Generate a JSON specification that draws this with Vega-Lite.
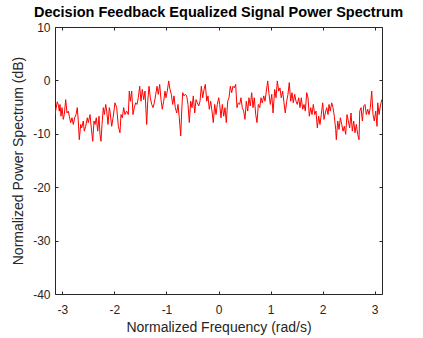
{
  "$schema": "https://vega.github.io/schema/vega-lite/v6.json",
  "autosize": {"type": "none"},
  "padding": {"left": 55, "top": 27, "right": 41, "bottom": 44},
  "width": 327,
  "height": 267,
  "background": "white",
  "config": {
    "font": "Liberation Sans",
    "view": {"stroke": "#262626", "strokeWidth": 1},
    "axis": {"grid": false, "domain": false, "tickColor": "#262626", "tickSize": -3, "labelColor": "#262626", "labelFont": "Liberation Sans", "labelFontSize": 12, "titleFont": "Liberation Sans", "titleFontSize": 14, "titleFontWeight": "normal", "titleColor": "#262626", "labelExpr": "'' + datum.value"}
  },
  "title": {"text": "Decision Feedback Equalized Signal Power Spectrum", "font": "Liberation Sans", "fontSize": 14.5, "fontWeight": "bold", "color": "black", "offset": 1},
  "data": {"values": [
    {"f": -3.142, "p": -6.4}, {"f": -3.098, "p": -4.0}, {"f": -3.079, "p": -4.5}, {"f": -3.059, "p": -5.75}, {"f": -3.046, "p": -4.5}, {"f": -3.026, "p": -6.7}, {"f": -3.007, "p": -5.1}, {"f": -2.982, "p": -7.3}, {"f": -2.963, "p": -6.4}, {"f": -2.936, "p": -3.6},
    {"f": -2.911, "p": -6.1}, {"f": -2.886, "p": -5.75}, {"f": -2.867, "p": -6.7}, {"f": -2.840, "p": -7.9}, {"f": -2.815, "p": -7.0}, {"f": -2.790, "p": -8.25}, {"f": -2.763, "p": -7.0}, {"f": -2.738, "p": -6.4}, {"f": -2.713, "p": -5.1}, {"f": -2.694, "p": -7.6},
    {"f": -2.675, "p": -11.1}, {"f": -2.648, "p": -8.25}, {"f": -2.629, "p": -8.9}, {"f": -2.598, "p": -7.6}, {"f": -2.579, "p": -9.5}, {"f": -2.552, "p": -8.6}, {"f": -2.521, "p": -7.0}, {"f": -2.502, "p": -7.9}, {"f": -2.469, "p": -6.4}, {"f": -2.444, "p": -8.9},
    {"f": -2.417, "p": -11.4}, {"f": -2.392, "p": -7.6}, {"f": -2.373, "p": -8.25}, {"f": -2.348, "p": -7.0}, {"f": -2.321, "p": -9.5}, {"f": -2.296, "p": -6.7}, {"f": -2.277, "p": -10.1}, {"f": -2.258, "p": -11.4}, {"f": -2.238, "p": -8.25}, {"f": -2.213, "p": -5.1},
    {"f": -2.194, "p": -6.4}, {"f": -2.167, "p": -4.5}, {"f": -2.148, "p": -5.75}, {"f": -2.123, "p": -8.25}, {"f": -2.098, "p": -5.1}, {"f": -2.085, "p": -5.75}, {"f": -2.052, "p": -8.6}, {"f": -2.021, "p": -6.7}, {"f": -1.989, "p": -4.2}, {"f": -1.956, "p": -5.1},
    {"f": -1.925, "p": -8.6}, {"f": -1.893, "p": -9.8}, {"f": -1.873, "p": -6.4}, {"f": -1.848, "p": -7.0}, {"f": -1.822, "p": -5.1}, {"f": -1.797, "p": -6.4}, {"f": -1.764, "p": -5.75}, {"f": -1.733, "p": -6.4}, {"f": -1.714, "p": -2.0}, {"f": -1.695, "p": -3.9},
    {"f": -1.668, "p": -2.0}, {"f": -1.643, "p": -6.4}, {"f": -1.618, "p": -5.1}, {"f": -1.591, "p": -4.2}, {"f": -1.566, "p": -4.5}, {"f": -1.541, "p": -3.25}, {"f": -1.514, "p": -1.1}, {"f": -1.489, "p": -3.9}, {"f": -1.464, "p": -1.7}, {"f": -1.437, "p": -3.6},
    {"f": -1.412, "p": -2.0}, {"f": -1.380, "p": -8.25}, {"f": -1.360, "p": -3.9}, {"f": -1.335, "p": -1.1}, {"f": -1.310, "p": -3.25}, {"f": -1.283, "p": -4.5}, {"f": -1.258, "p": -5.1}, {"f": -1.233, "p": -4.2}, {"f": -1.206, "p": -2.6}, {"f": -1.181, "p": -1.1},
    {"f": -1.157, "p": -2.6}, {"f": -1.130, "p": -0.75}, {"f": -1.105, "p": -3.6}, {"f": -1.080, "p": -5.4}, {"f": -1.053, "p": -3.9}, {"f": -1.028, "p": -2.0}, {"f": -1.009, "p": -3.25}, {"f": -0.984, "p": -2.0}, {"f": -0.957, "p": -0.1}, {"f": -0.932, "p": -1.7},
    {"f": -0.907, "p": -2.6}, {"f": -0.880, "p": -4.5}, {"f": -0.855, "p": -2.9}, {"f": -0.830, "p": -5.1}, {"f": -0.803, "p": -6.1}, {"f": -0.778, "p": -4.5}, {"f": -0.753, "p": -7.0}, {"f": -0.726, "p": -10.4}, {"f": -0.707, "p": -5.75}, {"f": -0.688, "p": -2.3},
    {"f": -0.663, "p": -2.9}, {"f": -0.638, "p": -2.6}, {"f": -0.611, "p": -2.9}, {"f": -0.586, "p": -4.5}, {"f": -0.561, "p": -7.9}, {"f": -0.534, "p": -3.9}, {"f": -0.509, "p": -5.1}, {"f": -0.484, "p": -2.9}, {"f": -0.457, "p": -6.1}, {"f": -0.432, "p": -3.6},
    {"f": -0.407, "p": -4.2}, {"f": -0.380, "p": -4.8}, {"f": -0.355, "p": -3.9}, {"f": -0.330, "p": -1.1}, {"f": -0.303, "p": -3.25}, {"f": -0.278, "p": -1.7}, {"f": -0.253, "p": -0.75}, {"f": -0.226, "p": -3.9}, {"f": -0.202, "p": -2.9}, {"f": -0.177, "p": -5.4},
    {"f": -0.150, "p": -3.9}, {"f": -0.125, "p": -5.75}, {"f": -0.100, "p": -7.9}, {"f": -0.073, "p": -4.5}, {"f": -0.048, "p": -6.4}, {"f": -0.023, "p": -4.5}, {"f": 0.004, "p": -3.25}, {"f": 0.023, "p": -4.5}, {"f": 0.048, "p": -7.0}, {"f": 0.073, "p": -4.5},
    {"f": 0.100, "p": -6.7}, {"f": 0.125, "p": -5.1}, {"f": 0.150, "p": -7.9}, {"f": 0.177, "p": -3.9}, {"f": 0.202, "p": -3.25}, {"f": 0.227, "p": -1.1}, {"f": 0.253, "p": -2.3}, {"f": 0.278, "p": -1.1}, {"f": 0.303, "p": -1.4}, {"f": 0.330, "p": -0.75},
    {"f": 0.355, "p": -5.1}, {"f": 0.380, "p": -4.2}, {"f": 0.407, "p": -4.5}, {"f": 0.432, "p": -3.25}, {"f": 0.457, "p": -5.1}, {"f": 0.484, "p": -5.75}, {"f": 0.509, "p": -7.3}, {"f": 0.534, "p": -3.9}, {"f": 0.561, "p": -5.75}, {"f": 0.586, "p": -3.25},
    {"f": 0.611, "p": -4.8}, {"f": 0.638, "p": -2.3}, {"f": 0.663, "p": -5.1}, {"f": 0.688, "p": -3.25}, {"f": 0.715, "p": -6.4}, {"f": 0.740, "p": -7.9}, {"f": 0.765, "p": -4.5}, {"f": 0.792, "p": -5.1}, {"f": 0.817, "p": -3.25}, {"f": 0.842, "p": -4.2},
    {"f": 0.869, "p": -2.9}, {"f": 0.894, "p": -3.9}, {"f": 0.919, "p": -2.0}, {"f": 0.946, "p": -0.1}, {"f": 0.971, "p": -2.6}, {"f": 0.996, "p": -4.5}, {"f": 1.023, "p": -2.6}, {"f": 1.048, "p": -6.1}, {"f": 1.080, "p": -1.7}, {"f": 1.105, "p": -3.25},
    {"f": 1.130, "p": -0.1}, {"f": 1.157, "p": -2.0}, {"f": 1.181, "p": -1.4}, {"f": 1.206, "p": -3.25}, {"f": 1.233, "p": -2.0}, {"f": 1.258, "p": -4.2}, {"f": 1.283, "p": -6.1}, {"f": 1.310, "p": -3.9}, {"f": 1.335, "p": -2.6}, {"f": 1.360, "p": -0.4},
    {"f": 1.387, "p": -3.9}, {"f": 1.412, "p": -2.3}, {"f": 1.437, "p": -4.2}, {"f": 1.464, "p": -2.6}, {"f": 1.489, "p": -3.9}, {"f": 1.514, "p": -4.5}, {"f": 1.541, "p": -3.25}, {"f": 1.566, "p": -5.1}, {"f": 1.591, "p": -3.25}, {"f": 1.618, "p": -5.4},
    {"f": 1.643, "p": -4.5}, {"f": 1.668, "p": -5.75}, {"f": 1.695, "p": -2.3}, {"f": 1.720, "p": -3.25}, {"f": 1.745, "p": -6.7}, {"f": 1.772, "p": -5.1}, {"f": 1.797, "p": -6.4}, {"f": 1.822, "p": -4.5}, {"f": 1.849, "p": -6.4}, {"f": 1.874, "p": -5.75},
    {"f": 1.899, "p": -8.9}, {"f": 1.925, "p": -6.7}, {"f": 1.950, "p": -8.25}, {"f": 1.975, "p": -6.4}, {"f": 2.002, "p": -4.2}, {"f": 2.027, "p": -7.3}, {"f": 2.052, "p": -6.1}, {"f": 2.079, "p": -5.1}, {"f": 2.104, "p": -6.4}, {"f": 2.123, "p": -4.5},
    {"f": 2.148, "p": -5.75}, {"f": 2.175, "p": -4.2}, {"f": 2.200, "p": -5.1}, {"f": 2.225, "p": -6.7}, {"f": 2.252, "p": -9.2}, {"f": 2.264, "p": -11.1}, {"f": 2.291, "p": -7.6}, {"f": 2.316, "p": -9.2}, {"f": 2.341, "p": -7.0}, {"f": 2.368, "p": -8.25},
    {"f": 2.393, "p": -9.5}, {"f": 2.418, "p": -8.6}, {"f": 2.444, "p": -10.1}, {"f": 2.469, "p": -6.4}, {"f": 2.494, "p": -7.6}, {"f": 2.521, "p": -8.9}, {"f": 2.546, "p": -6.1}, {"f": 2.571, "p": -9.5}, {"f": 2.598, "p": -7.6}, {"f": 2.623, "p": -9.8},
    {"f": 2.648, "p": -8.25}, {"f": 2.675, "p": -10.1}, {"f": 2.700, "p": -11.1}, {"f": 2.714, "p": -5.75}, {"f": 2.739, "p": -5.1}, {"f": 2.764, "p": -7.6}, {"f": 2.791, "p": -4.8}, {"f": 2.815, "p": -4.5}, {"f": 2.840, "p": -6.4}, {"f": 2.867, "p": -5.4},
    {"f": 2.892, "p": -6.4}, {"f": 2.917, "p": -5.1}, {"f": 2.944, "p": -2.0}, {"f": 2.969, "p": -6.4}, {"f": 2.994, "p": -7.6}, {"f": 3.021, "p": -5.75}, {"f": 3.046, "p": -8.6}, {"f": 3.060, "p": -4.2}, {"f": 3.085, "p": -6.4}, {"f": 3.110, "p": -4.8},
    {"f": 3.137, "p": -3.6}
  ]},
  "encoding": {
    "x": {"field": "f", "type": "quantitative", "scale": {"domain": [-3.14159, 3.14159], "nice": false, "zero": false}},
    "y": {"field": "p", "type": "quantitative", "scale": {"domain": [-40, 10], "nice": false, "zero": false}}
  },
  "layer": [
    {
      "mark": {"type": "line", "color": "#FF0000", "strokeWidth": 1, "clip": true},
      "encoding": {
        "x": {"field": "f", "type": "quantitative", "axis": {"orient": "bottom", "values": [-3, -2, -1, 0, 1, 2, 3], "title": "Normalized Frequency (rad/s)", "labelPadding": 13, "titlePadding": 5}},
        "y": {"field": "p", "type": "quantitative", "axis": {"orient": "left", "values": [-40, -30, -20, -10, 0, 10], "title": "Normalized Power Spectrum (dB)", "labelPadding": 8, "titlePadding": 7}}
      }
    },
    {
      "mark": {"type": "line", "opacity": 0},
      "encoding": {
        "x": {"field": "f", "type": "quantitative", "axis": {"orient": "top", "values": [-3, -2, -1, 0, 1, 2, 3], "labels": false, "title": null}},
        "y": {"field": "p", "type": "quantitative", "axis": {"orient": "right", "values": [-40, -30, -20, -10, 0, 10], "labels": false, "title": null}}
      }
    }
  ],
  "resolve": {"axis": {"x": "independent", "y": "independent"}}
}
